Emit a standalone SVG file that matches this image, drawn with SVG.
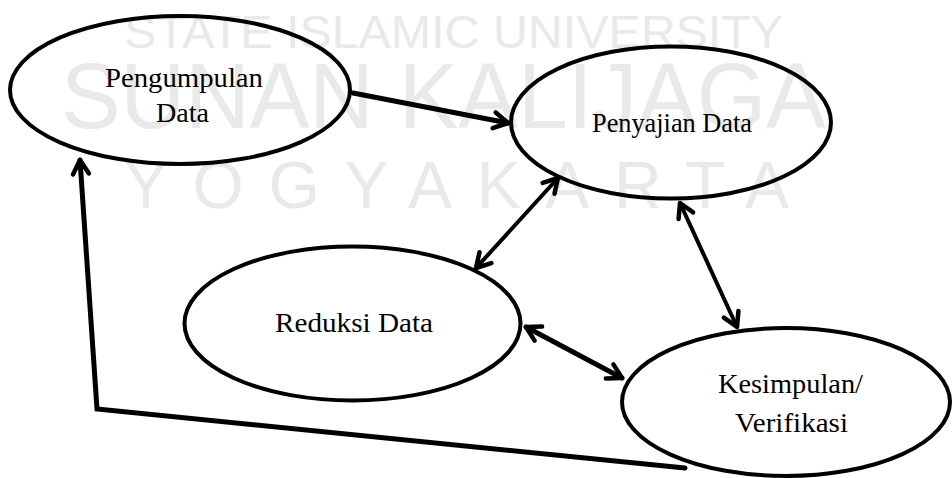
<svg xmlns="http://www.w3.org/2000/svg" width="952" height="478" viewBox="0 0 952 478">
<style>
.wm{fill:#e9e9e9;font-family:"Liberation Sans Narrow","Liberation Sans",Arial,sans-serif;}
.node{fill:none;stroke:#000;stroke-width:4;}
.lbl{font-family:"Liberation Serif","Times New Roman",serif;font-size:27px;fill:#000;}
.conn{fill:none;stroke:#000;stroke-linecap:round;stroke-linejoin:miter;}
</style>
<defs>
<marker id="ah" markerUnits="userSpaceOnUse" markerWidth="30" markerHeight="30" refX="0" refY="0" orient="auto-start-reverse" overflow="visible">
<path d="M-14,-8 L0,0 L-14,8" fill="none" stroke="#000" stroke-width="4.5" stroke-linecap="round" stroke-linejoin="round"/>
</marker>
</defs>
<rect width="952" height="478" fill="#fff"/>
<g id="watermark">
<text class="wm" x="124" y="48" font-size="46" textLength="659" lengthAdjust="spacingAndGlyphs">STATE ISLAMIC UNIVERSITY</text>
<text class="wm" x="61" y="128" font-size="92" textLength="765" lengthAdjust="spacingAndGlyphs">SUNAN KALIJAGA</text>
<text class="wm" x="124" y="208" font-size="66" textLength="665" lengthAdjust="spacing">YOGYAKARTA</text>
</g>
<g id="connectors">
<line class="conn" x1="353" y1="93" x2="508" y2="123" stroke-width="5" marker-end="url(#ah)"/>
<line class="conn" x1="558" y1="178" x2="476" y2="268" stroke-width="4" marker-start="url(#ah)" marker-end="url(#ah)"/>
<line class="conn" x1="680" y1="203" x2="737" y2="327" stroke-width="4" marker-start="url(#ah)" marker-end="url(#ah)"/>
<line class="conn" x1="526" y1="327" x2="622" y2="378" stroke-width="5" marker-start="url(#ah)" marker-end="url(#ah)"/>
<polyline class="conn" points="685,468 97,409 80,160" stroke-width="5" marker-end="url(#ah)"/>
</g>
<g id="pengumpulan">
<ellipse class="node" cx="180" cy="90" rx="170" ry="74"/>
<text class="lbl" x="105" y="87" textLength="158" lengthAdjust="spacingAndGlyphs">Pengumpulan</text>
<text class="lbl" x="156" y="122" textLength="53" lengthAdjust="spacingAndGlyphs">Data</text>
</g>
<g id="penyajian">
<ellipse class="node" cx="671" cy="122.5" rx="160" ry="76"/>
<text class="lbl" x="592" y="132" textLength="160" lengthAdjust="spacingAndGlyphs">Penyajian Data</text>
</g>
<g id="reduksi">
<ellipse class="node" cx="352.5" cy="323.5" rx="168" ry="77"/>
<text class="lbl" x="275" y="332" textLength="158" lengthAdjust="spacingAndGlyphs">Reduksi Data</text>
</g>
<g id="kesimpulan">
<ellipse class="node" cx="786" cy="402" rx="164" ry="74"/>
<text class="lbl" x="718" y="393" textLength="145" lengthAdjust="spacingAndGlyphs">Kesimpulan/</text>
<text class="lbl" x="735" y="432" textLength="113" lengthAdjust="spacingAndGlyphs">Verifikasi</text>
</g>
</svg>
